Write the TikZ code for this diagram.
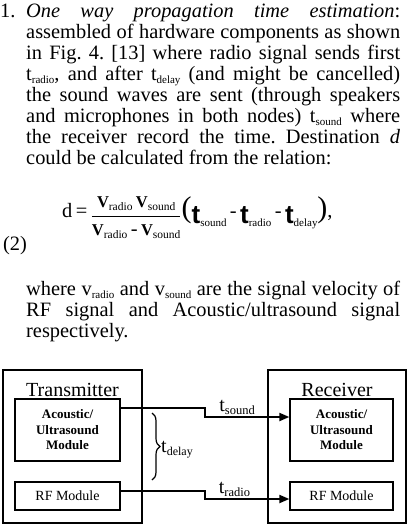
\documentclass[tikz,border=0pt]{standalone}
\usepackage{amsmath}
\usepackage{fontspec}
\setmainfont{Liberation Serif}
\newfontfamily\sansf{Liberation Sans}
\usetikzlibrary{positioning,arrows.meta,decorations.pathreplacing}
\newcommand{\sub}[2][11]{\raisebox{-3pt}{\fontsize{#1}{#1}\selectfont #2}}
\newcommand{\jline}[1]{\makebox[374pt][s]{#1}}
\newcommand{\bV}[1]{{\fontsize{16.5}{16.5}\selectfont\bfseries V}\sub[11.5]{#1}}
\newcommand{\bt}[1]{\raisebox{-6pt}{{\sansf\bfseries\fontsize{26}{26}\selectfont t}\sub[11]{#1}}}

\begin{document}
\frenchspacing
\begin{tikzpicture}[
  x=1pt, y=-1pt,
  >={Triangle[length=10pt,width=8pt]},
  txt/.style={anchor=base west, inner sep=0pt, font=\fontsize{20.4}{20.4}\selectfont},
  outer/.style={draw, line width=1.5pt},
  module/.style={draw, line width=1.3pt, align=center, inner sep=0pt},
  hd/.style={anchor=base, inner sep=0pt, font=\fontsize{20}{20}\selectfont},
  sig/.style={->, line width=2pt},
  lbl/.style={inner sep=1pt, font=\fontsize{20}{20}\selectfont},
  brc/.style={decorate, decoration={brace, amplitude=8pt}, line width=1.2pt}
]
  \useasboundingbox (0,0) rectangle (408,530);

  % item text
  \node[txt] (num) at (0,17.5) {1.};
  \node[txt] (l1) at (26,17.5) {\jline{\textit{One way propagation time estimation}:}};
  \node[txt] (l2) at (26,38.5) {\jline{assembled of hardware components as shown}};
  \node[txt] (l3) at (26,59.5) {\jline{in Fig. 4. [13] where radio signal sends first}};
  \node[txt] (l4) at (26,80.5) {\jline{t\sub{radio}, and after t\sub{delay} (and might be cancelled)}};
  \node[txt] (l5) at (26,101.5) {\jline{the sound waves are sent (through speakers}};
  \node[txt] (l6) at (26,122.5) {\jline{and microphones in both nodes) t\sub{sound} where}};
  \node[txt] (l7) at (26,143.5) {\jline{the receiver record the time. Destination \textit{d}}};
  \node[txt] (l8) at (26,164.5) {could be calculated from the relation:};

  % equation (2)
  \node[txt] (eq) at (62,217) {d\,=\,\raisebox{-4.5pt}{$\dfrac{\text{\bV{radio}\,\bV{sound}}}{\text{\bV{radio}\,-\,\bV{sound}}}$}%
    {\fontsize{30}{30}\selectfont(}\bt{sound}\,-\,\bt{radio}\,-\,\bt{delay}{\fontsize{30}{30}\selectfont)},};
  \node[txt] (eqn) at (3,250) {(2)};

  \node[txt] (p1) at (26,295) {\jline{where v\sub{radio} and v\sub{sound} are the signal velocity of}};
  \node[txt] (p2) at (26,316) {\jline{RF signal and Acoustic/ultrasound signal}};
  \node[txt] (p3) at (26,337) {respectively.};

  % transmitter
  \node[outer, minimum width=139pt, minimum height=153pt] (tx) at (72.5,446.5) {};
  \node[hd] (txl) at ([yshift=-27pt]tx.north) {Transmitter};
  \node[module, minimum width=105pt, minimum height=62pt,
        font=\fontsize{13}{15.5}\selectfont\bfseries] (tac) at (67.5,430) {Acoustic/\\Ultrasound\\Module};
  \node[module, minimum width=105pt, minimum height=28pt,
        font=\fontsize{14}{14}\selectfont] (trf) at (67.5,496) {RF Module};

  % receiver
  \node[outer, minimum width=138pt, minimum height=153pt] (rx) at (337,446.5) {};
  \node[hd] (rxl) at ([yshift=-27pt]rx.north) {Receiver};
  \node[module, minimum width=103pt, minimum height=62pt,
        font=\fontsize{13}{15.5}\selectfont\bfseries] (rac) at (341.5,430) {Acoustic/\\Ultrasound\\Module};
  \node[module, minimum width=103pt, minimum height=28pt,
        font=\fontsize{14}{14}\selectfont] (rrf) at (341.5,496) {RF Module};

  % signals
  \coordinate (sk1) at (205,408);
  \coordinate (sk2) at (205,417);
  \coordinate (rk1) at (205,491);
  \coordinate (rk2) at (205,499);
  \draw[sig] (tac.east |- sk1) -- (sk1) -- (sk2) -- node[lbl, above, pos=0.38] (tsnd) {t\sub[12.5]{sound}} (rac.west |- sk2);
  \draw[sig] (trf.east |- rk1) -- (rk1) -- (rk2) -- node[lbl, above, pos=0.35] (trad) {t\sub[12.5]{radio}} (rrf.west |- rk2);

  % delay brace
  \coordinate (bt) at (152,413);
  \coordinate (bb) at (152,480);
  \draw[brc] (bt) -- (bb);
  \node[txt, font=\fontsize{20}{20}\selectfont] (tdel) at (161,452) {t\sub[12]{delay}};
\end{tikzpicture}
\end{document}
